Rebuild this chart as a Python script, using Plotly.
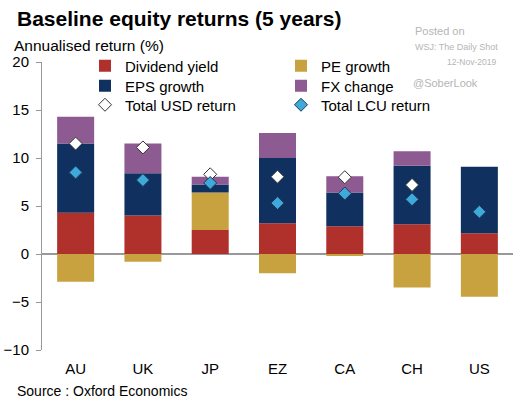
import plotly.graph_objects as go

categories = ["AU", "UK", "JP", "EZ", "CA", "CH", "US"]
dividend_yield = [4.3, 4.0, 2.5, 3.2, 2.9, 3.1, 2.15]
pe_growth = [-2.9, -0.8, 3.9, -2.0, -0.2, -3.5, -4.45]
eps_growth = [7.2, 4.4, 0.85, 6.8, 3.5, 6.1, 6.95]
fx_change = [2.8, 3.1, 0.8, 2.6, 1.7, 1.5, 0.0]
total_usd = [11.5, 11.1, 8.3, 8.05, 8.0, 7.2, None]
total_lcu = [8.5, 7.7, 7.4, 5.3, 6.3, 5.7, 4.4]
y_ticks = [-10, -5, 0, 5, 10, 15, 20]

FONT = "Liberation Sans, Arial, sans-serif"
W, H = 524, 403
ML, MR, MT, MB = 42, 11, 62, 53
PW, PH = W - ML - MR, H - MT - MB


def px_x(x):
    return (x - ML) / PW


def px_y(y):
    return 1 - (y - MT) / PH


fig = go.Figure()
bar_specs = [
    ("Dividend yield", dividend_yield, "#B0302C", "legend"),
    ("PE growth", pe_growth, "#C9A240", "legend"),
    ("EPS growth", eps_growth, "#10315F", "legend2"),
    ("FX change", fx_change, "#8E5A92", "legend2"),
]
for name, vals, col, lg in bar_specs:
    fig.add_trace(go.Bar(x=categories, y=vals, name=name, legend=lg,
                         marker=dict(color=col, line=dict(width=0))))

fig.add_trace(go.Scatter(x=categories, y=total_usd, mode="markers", name="Total USD return",
                         legend="legend3",
                         marker=dict(symbol="diamond", size=10, color="white",
                                     line=dict(color="#333333", width=1))))
fig.add_trace(go.Scatter(x=categories, y=total_lcu, mode="markers", name="Total LCU return",
                         legend="legend3",
                         marker=dict(symbol="diamond", size=10, color="#3FA9DC",
                                     line=dict(color="#1a3a55", width=1))))

legend_common = dict(orientation="h", xanchor="left", yanchor="middle",
                     entrywidth=151, entrywidthmode="pixels", bgcolor="rgba(0,0,0,0)",
                     font=dict(family=FONT, size=15, color="black"), itemwidth=30,
                     borderwidth=0)
row_y = [66, 86, 105]
legend_x = px_x(85)

fig.update_layout(
    width=W, height=H,
    barmode="relative", bargap=0.45,
    paper_bgcolor="white", plot_bgcolor="white",
    margin=dict(l=ML, r=MR, t=MT, b=MB, autoexpand=False),
    font=dict(family=FONT, size=15, color="black"),
    showlegend=True,
    legend=dict(x=legend_x, y=px_y(row_y[0]), **legend_common),
    legend2=dict(x=legend_x, y=px_y(row_y[1]), **legend_common),
    legend3=dict(x=legend_x, y=px_y(row_y[2]), **legend_common),
    xaxis=dict(showline=False, ticks="", tickfont=dict(size=15), ticklabelstandoff=8,
               automargin=False),
    yaxis=dict(range=[-10, 20], tickvals=y_ticks, showgrid=False, zeroline=True,
               zerolinecolor="#999999", zerolinewidth=2, showline=True, linecolor="#999999",
               linewidth=1, ticks="outside", ticklen=5, tickcolor="#999999",
               tickfont=dict(size=15), ticklabelstandoff=4, automargin=False),
)

annos = [
    dict(text="<b>Baseline equity returns (5 years)</b>", x=15, y=18, size=21, color="black"),
    dict(text="Annualised return (%)", x=12, y=45, size=15.5, color="black"),
    dict(text="Source : Oxford Economics", x=15, y=391, size=14, color="black"),
    dict(text="Posted on", x=413, y=31, size=11, color="#b5b5b5"),
    dict(text="WSJ: The Daily Shot", x=413, y=47, size=9, color="#b5b5b5"),
    dict(text="12-Nov-2019", x=445, y=62, size=8.5, color="#b5b5b5"),
    dict(text="@SoberLook", x=411, y=83, size=11, color="#b5b5b5"),
]
for a in annos:
    fig.add_annotation(text=a["text"], xref="paper", yref="paper",
                       x=px_x(a["x"]), y=px_y(a["y"]),
                       xanchor="left", yanchor="middle", showarrow=False,
                       font=dict(family=FONT, size=a["size"], color=a["color"]))

fig.write_html("out.html")
